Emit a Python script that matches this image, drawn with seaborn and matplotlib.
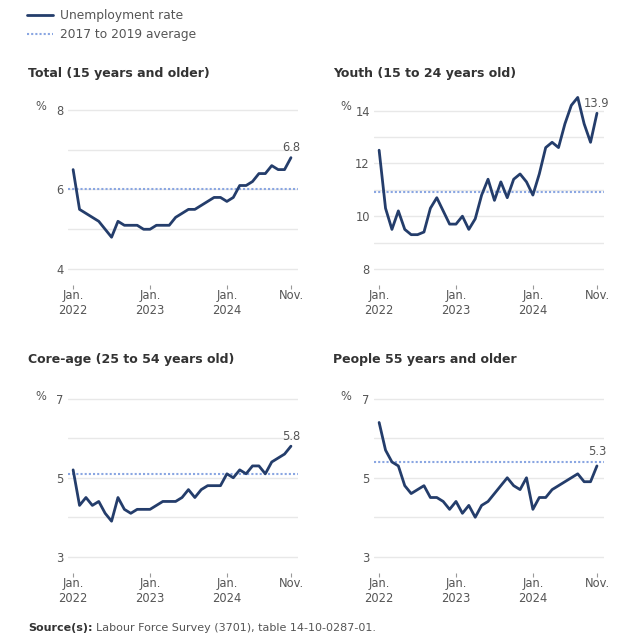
import numpy as np
import pandas as pd
import seaborn as sns
import matplotlib
matplotlib.use("Agg")
import matplotlib.pyplot as plt

# ---------------- data ----------------
months = list(range(35))  # Jan 2022 .. Nov 2024
tick_pos = [0, 12, 24, 34]
tick_labels = ["Jan.\n2022", "Jan.\n2023", "Jan.\n2024", "Nov."]

titles = ["Total (15 years and older)", "Youth (15 to 24 years old)",
          "Core-age (25 to 54 years old)", "People 55 years and older"]

total = [6.5, 5.5, 5.4, 5.3, 5.2, 5.0, 4.8, 5.2, 5.1, 5.1, 5.1, 5.0, 5.0, 5.1, 5.1, 5.1, 5.3, 5.4,
         5.5, 5.5, 5.6, 5.7, 5.8, 5.8, 5.7, 5.8, 6.1, 6.1, 6.2, 6.4, 6.4, 6.6, 6.5, 6.5, 6.8]
youth = [12.5, 10.3, 9.5, 10.2, 9.5, 9.3, 9.3, 9.4, 10.3, 10.7, 10.2, 9.7, 9.7, 10.0, 9.5, 9.9, 10.8,
         11.4, 10.6, 11.3, 10.7, 11.4, 11.6, 11.3, 10.8, 11.6, 12.6, 12.8, 12.6, 13.5, 14.2, 14.5,
         13.5, 12.8, 13.9]
core = [5.2, 4.3, 4.5, 4.3, 4.4, 4.1, 3.9, 4.5, 4.2, 4.1, 4.2, 4.2, 4.2, 4.3, 4.4, 4.4, 4.4, 4.5,
        4.7, 4.5, 4.7, 4.8, 4.8, 4.8, 5.1, 5.0, 5.2, 5.1, 5.3, 5.3, 5.1, 5.4, 5.5, 5.6, 5.8]
older = [6.4, 5.7, 5.4, 5.3, 4.8, 4.6, 4.7, 4.8, 4.5, 4.5, 4.4, 4.2, 4.4, 4.1, 4.3, 4.0, 4.3, 4.4,
         4.6, 4.8, 5.0, 4.8, 4.7, 5.0, 4.2, 4.5, 4.5, 4.7, 4.8, 4.9, 5.0, 5.1, 4.9, 4.9, 5.3]
averages = [6.0, 10.9, 5.1, 5.4]

series = [total, youth, core, older]
ytick_labelled = [[4, 6, 8], [8, 10, 12, 14], [3, 5, 7], [3, 5, 7]]
ygrid = [[4, 5, 6, 7, 8], [8, 9, 10, 11, 12, 13, 14], [3, 4, 5, 6, 7], [3, 4, 5, 6, 7]]
ylims = [(3.75, 8.40), (7.62, 14.63), (2.74, 7.40), (2.74, 7.40)]
label_offsets = [2.5, 2.5, 2.5, 5.5]

# ---------------- style ----------------
sns.set_style("white")
plt.rcParams["font.family"] = ["DejaVu Sans"]

LINE = "#243d6b"
AVG = "#8aa6e2"
TXT = "#555555"
TITLE = "#333333"
GRID = "#e8e8e8"

W, H = 640, 641
fig = plt.figure(figsize=(W / 100, H / 100), dpi=100)


def rect(l, t, r, b):
    return [l / W, 1 - b / H, (r - l) / W, (b - t) / H]


panel_rects = [rect(68, 94, 298, 279), rect(374, 94, 604, 279),
               rect(68, 383, 298, 567), rect(374, 383, 604, 567)]
title_pos = [(28, 73), (333, 73), (28, 360), (333, 360)]
pct_pos = [(35, 107), (340, 107), (35, 396), (340, 396)]

axes = []
for i in range(4):
    ax = fig.add_axes(panel_rects[i])
    axes.append(ax)
    df = pd.DataFrame({"month": months, "rate": series[i]})
    sns.lineplot(data=df, x="month", y="rate", ax=ax, color=LINE, linewidth=2.0,
                 label="Unemployment rate", legend=False)
    ax.axhline(averages[i], color=AVG, linewidth=1.5, linestyle=(0, (1.0, 1.0)),
               label="2017 to 2019 average", zorder=1)
    ax.set_xlim(-0.8, 35.1)
    ax.set_ylim(*ylims[i])
    ax.set_xlabel("")
    ax.set_ylabel("")
    for g in ygrid[i]:
        ax.axhline(g, color=GRID, linewidth=1.0, zorder=0)
    ax.set_yticks(ytick_labelled[i])
    ax.set_yticklabels([str(v) for v in ytick_labelled[i]])
    ax.set_xticks(tick_pos)
    ax.set_xticklabels(tick_labels, linespacing=1.22)
    for s in ax.spines.values():
        s.set_visible(False)
    ax.spines["bottom"].set_position(("outward", 4))
    ax.tick_params(axis="y", length=0, pad=3, labelsize=8.3, labelcolor=TXT)
    ax.tick_params(axis="x", length=2.6, width=0.8, color="#999999", pad=0.5,
                   labelsize=8.3, labelcolor=TXT, direction="out", bottom=True)
    ax.annotate(f"{series[i][-1]:.1f}", xy=(months[-1], series[i][-1]),
                xytext=(0, label_offsets[i]), textcoords="offset points",
                ha="center", va="bottom", fontsize=8.3, color=TXT)
    fig.text(title_pos[i][0] / W, 1 - title_pos[i][1] / H, titles[i], fontsize=9,
             fontweight="bold", color=TITLE, ha="left", va="center")
    fig.text(pct_pos[i][0] / W, 1 - pct_pos[i][1] / H, "%", fontsize=8.3,
             color=TXT, ha="left", va="center")

# legend
handles, labels = axes[0].get_legend_handles_labels()
leg = fig.legend(handles[:2], labels[:2], loc="upper left",
                 bbox_to_anchor=(27 / W, 1 - 9 / H), frameon=False,
                 fontsize=8.8, handlelength=2.1, handletextpad=0.6,
                 labelspacing=0.5, borderpad=0, borderaxespad=0)
for t in leg.get_texts():
    t.set_color(TXT)

# source
src_y = 1 - 628 / H
t1 = fig.text(28 / W, src_y, "Source(s):", fontsize=8, fontweight="bold",
              color=TITLE, ha="left", va="center")
fig.canvas.draw()
bb = t1.get_window_extent(renderer=fig.canvas.get_renderer())
fig.text((bb.x1 + 4) / W, src_y, "Labour Force Survey (3701), table 14-10-0287-01.",
         fontsize=8, color=TXT, ha="left", va="center")

fig.savefig("out.png", dpi=100)
